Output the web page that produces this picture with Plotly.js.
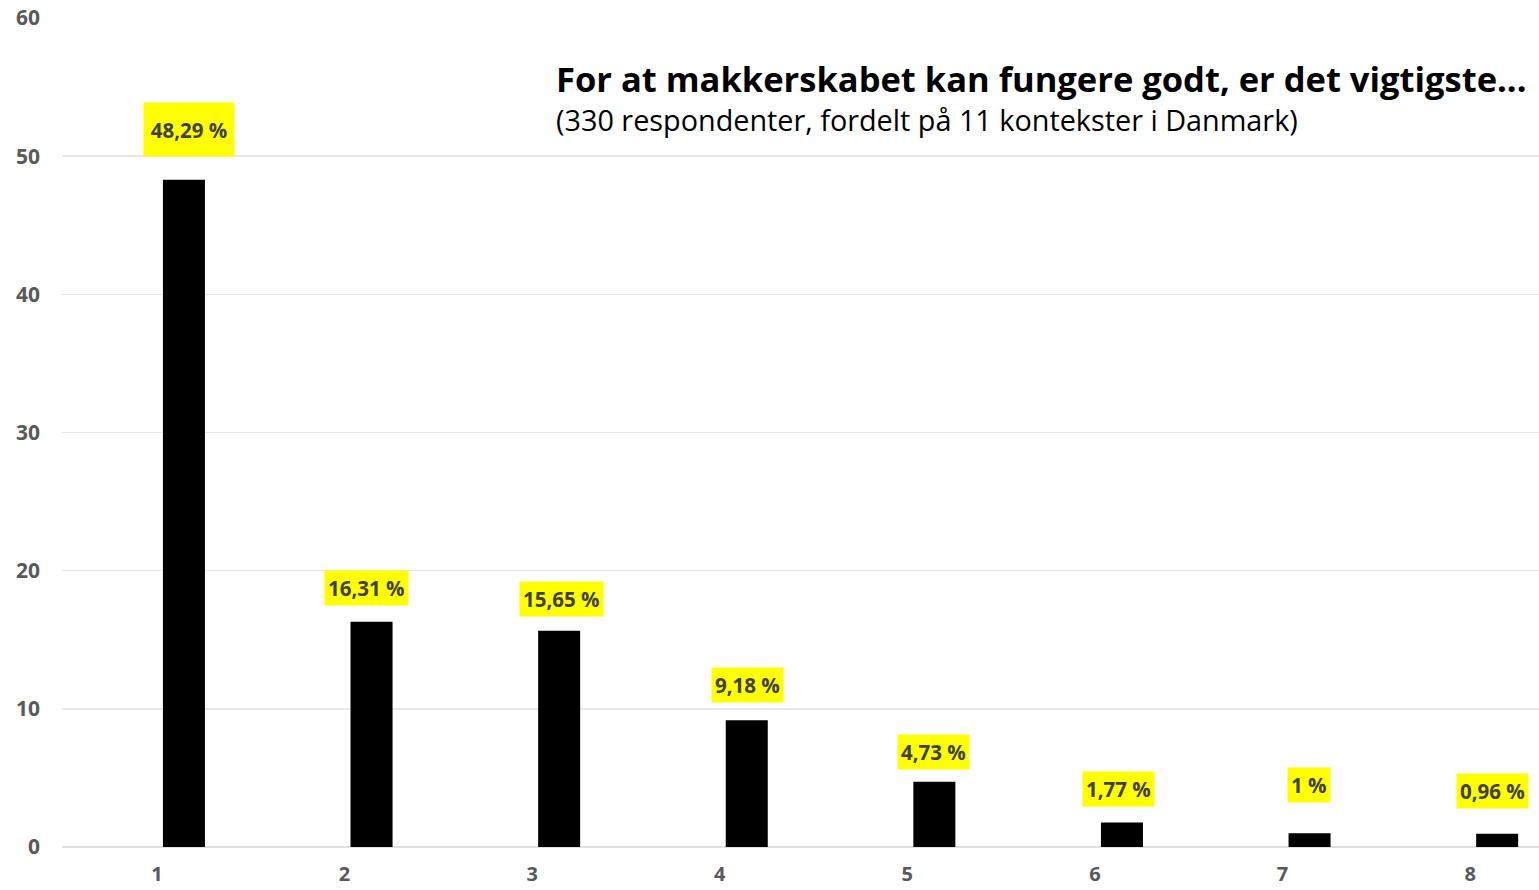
<!DOCTYPE html>
<html>
<head>
<meta charset="utf-8">
<script src="https://cdn.plot.ly/plotly-3.0.1.min.js"></script>
<style>html,body{margin:0;padding:0;background:#fff;}#chart{width:1539px;height:890px;}</style>
</head>
<body>
<div id="chart"></div>
<script>
const categories = [1, 2, 3, 4, 5, 6, 7, 8];
const values = [48.29, 16.31, 15.65, 9.18, 4.73, 1.77, 1, 0.96];
const labels = ["48,29 %", "16,31 %", "15,65 %", "9,18 %", "4,73 %", "1,77 %", "1 %", "0,96 %"];
const titleText = "For at makkerskabet kan fungere godt, er det vigtigste...";
const subtitleText = "(330 respondenter, fordelt på 11 kontekster i Danmark)";

// label placement styling (pixel shifts relative to each bar)
const labelXShift = [32, 22, 29, 28, 26, 24, 26, 22];
const labelYShift = [50, 34, 32, 35, 30, 34, 48, 43];

const FONT = "'Open Sans', Lato, sans-serif";
const barWidth = 0.224, barOffset = 0.032;

const trace = {
  type: 'bar',
  x: categories,
  y: values,
  width: barWidth,
  offset: barOffset,
  marker: {color: '#000000'},
  hoverinfo: 'skip'
};

const annotations = categories.map((c, i) => {
  const a = {
    x: c, y: values[i], xref: 'x', yref: 'y',
    text: '<b>' + labels[i] + '</b>',
    showarrow: false,
    xshift: labelXShift[i], yshift: labelYShift[i],
    bgcolor: '#ffff00',
    borderpad: 3,
    font: {family: FONT, size: 20.5, color: '#404040'}
  };
  if (i === 0) { a.height = 45; a.width = 82; a.borderpad = 4; }
  return a;
});
annotations.push({
  xref: 'paper', yref: 'paper', x: 0.333, y: 0.927, xanchor: 'left', yanchor: 'middle',
  text: '<b>' + titleText + '</b>', showarrow: false,
  font: {family: FONT, size: 34.5, color: '#000000'}
});
annotations.push({
  xref: 'paper', yref: 'paper', x: 0.333, y: 0.878, xanchor: 'left', yanchor: 'middle',
  text: subtitleText, showarrow: false,
  font: {family: FONT, size: 28.8, color: '#000000'}
});

const layout = {
  width: 1539, height: 890,
  margin: {l: 62, r: 0, t: 18, b: 43},
  paper_bgcolor: '#ffffff', plot_bgcolor: '#ffffff',
  showlegend: false,
  xaxis: {
    range: [0.494, 8.367], tickmode: 'array', tickvals: categories,
    ticktext: categories.map(String),
    showgrid: false, zeroline: false, showline: false, ticks: '',
    tickfont: {family: FONT, size: 20, color: '#595959', weight: 'bold'},
    ticklabelstandoff: 13
  },
  yaxis: {
    range: [0, 60], dtick: 10, showgrid: true, gridcolor: '#e8e8e8', gridwidth: 1.5,
    zeroline: true, zerolinecolor: '#e0e0e0', zerolinewidth: 1.5, showline: false, ticks: '',
    tickfont: {family: FONT, size: 21, color: '#595959', weight: 'bold'},
    ticklabelstandoff: 21
  },
  annotations: annotations
};

Plotly.newPlot('chart', [trace], layout, {displayModeBar: false, staticPlot: true});
</script>
</body>
</html>
